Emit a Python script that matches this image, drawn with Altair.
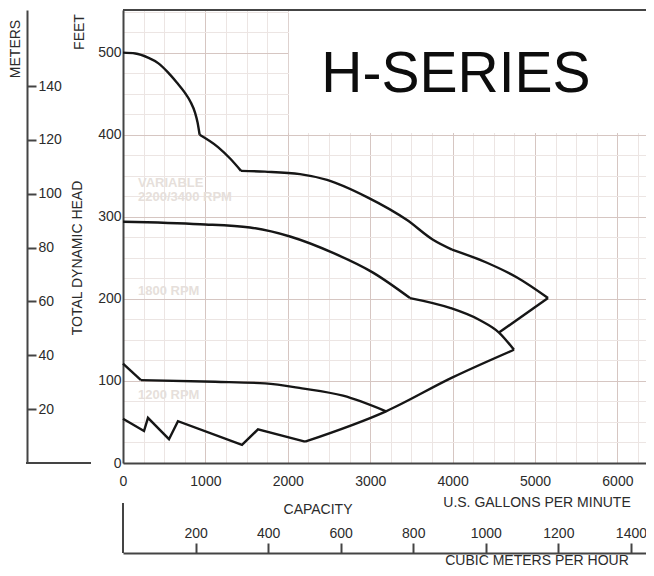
import altair as alt
import pandas as pd

# ---------------- data ----------------
GPM_MAX = 6347
FT_MAX = 552

# smooth curve pieces (gpm, feet)
var_a_gpm = [0, 150, 303, 430, 546, 650, 752, 820, 874, 905, 930]
var_a_ft = [500, 499, 494, 487, 476, 464, 451, 440, 427, 415, 400]
var_b_gpm = [930, 1153, 1300, 1432]
var_b_ft = [400, 385, 371, 356]
var_c_gpm = [1432, 1723, 2148, 2476, 2961, 3447, 3762, 3993]
var_c_ft = [356, 355, 352, 345, 324, 296, 272, 260]
var_d_gpm = [3993, 4417, 4782, 5158]
var_d_ft = [260, 244, 226, 201]

rpm1800_a_gpm = [0, 934, 1541, 2027, 2549, 3034, 3483]
rpm1800_a_ft = [294, 291, 287, 276, 256, 232, 201]
rpm1800_b_gpm = [3483, 3968, 4333, 4563, 4745]
rpm1800_b_ft = [201, 189, 174, 159, 138]

diag_gpm = [4745, 3993, 3192, 2209]
diag_ft = [138, 104, 63, 26]

rpm1200_b_gpm = [218, 1117, 1723, 2172, 2670, 3192]
rpm1200_b_ft = [101, 99, 97, 91, 82, 63]

# straight (polyline) pieces
var_e_gpm = [5158, 4563]
var_e_ft = [201, 159]
low_gpm = [2209, 1638, 1444, 667, 558, 303, 255, 0]
low_ft = [26, 41, 22, 51, 29, 55, 39, 54]
rpm1200_a_gpm = [0, 218]
rpm1200_a_ft = [121, 101]

label_text = ["VARIABLE", "2200/3400 RPM", "1800 RPM", "1200 RPM"]
label_gpm = [182, 182, 182, 182]
label_ft = [341, 324, 210, 83]

m3h_ticks = [200, 400, 600, 800, 1000, 1200, 1400]
meter_ticks = [20, 40, 60, 80, 100, 120, 140]

title_text = ["H-SERIES"]
title_gpm = [4041]
title_ft = [452]

GPM_PER_M3H = 1 / 0.2271247
FT_PER_M = 1 / 0.3048


# ---------------- tables ----------------
def table(pieces):
    rows = []
    for name, xs_, ys_ in pieces:
        for i, (x, y) in enumerate(zip(xs_, ys_)):
            rows.append({"piece": name, "gpm": x, "ft": y, "order": i})
    return pd.DataFrame(rows)


smooth = table([("va", var_a_gpm, var_a_ft), ("vb", var_b_gpm, var_b_ft),
                ("vc", var_c_gpm, var_c_ft), ("vd", var_d_gpm, var_d_ft),
                ("r18a", rpm1800_a_gpm, rpm1800_a_ft), ("r18b", rpm1800_b_gpm, rpm1800_b_ft),
                ("diag", diag_gpm, diag_ft), ("r12b", rpm1200_b_gpm, rpm1200_b_ft)])
straight = table([("ve", var_e_gpm, var_e_ft), ("low", low_gpm, low_ft),
                  ("r12a", rpm1200_a_gpm, rpm1200_a_ft)])
labels = pd.DataFrame({"gpm": label_gpm, "ft": label_ft, "text": label_text})
title_df = pd.DataFrame({"gpm": title_gpm, "ft": title_ft, "text": title_text})
box_df = pd.DataFrame({"x0": [2012], "x1": [GPM_MAX], "y0": [402], "y1": [FT_MAX]})

FONT = "Liberation Sans"
DARK = "#2b2b2b"
AXIS_C = "#444444"
MAJOR = "#d6c6c2"
MINOR = "#ece5e3"
LINE_C = "#161616"

W, H = 523, 453

xs = alt.Scale(domain=[0, GPM_MAX], nice=False, zero=False)
ys = alt.Scale(domain=[0, FT_MAX], nice=False, zero=False)

minor_x = list(range(0, GPM_MAX, 250))
minor_y = list(range(0, FT_MAX, 25))

main = alt.Chart(smooth).mark_line(color=LINE_C, strokeWidth=2.4, interpolate="monotone").encode(
    x=alt.X("gpm:Q", scale=xs, axis=alt.Axis(
        orient="bottom", values=minor_x, format="d",
        labelExpr="datum.value % 1000 === 0 ? datum.label : ''",
        grid=True, gridColor={"condition": {"test": "datum.value % 1000 === 0", "value": MAJOR}, "value": MINOR},
        gridWidth=1, ticks=False, domainColor=AXIS_C, domainWidth=2,
        labelFont=FONT, labelFontSize=14, labelColor=DARK, labelPadding=11,
        labelFlush=False, labelOverlap=False, title=None)),
    y=alt.Y("ft:Q", scale=ys, axis=alt.Axis(
        orient="left", values=minor_y, format="d",
        labelExpr="datum.value % 100 === 0 ? datum.label : ''",
        grid=True, gridColor={"condition": {"test": "datum.value % 100 === 0", "value": MAJOR}, "value": MINOR},
        gridWidth=1, ticks=False, domainColor=AXIS_C, domainWidth=2,
        labelFont=FONT, labelFontSize=14, labelColor=DARK, labelPadding=2,
        labelFlush=False, labelOverlap=False, title=None)),
    detail="piece:N",
    order="order:Q",
)

lines2 = alt.Chart(straight).mark_line(color=LINE_C, strokeWidth=2.4, strokeJoin="miter").encode(
    x=alt.X("gpm:Q", scale=xs, axis=None),
    y=alt.Y("ft:Q", scale=ys, axis=None),
    detail="piece:N",
    order="order:Q",
)

secondary = alt.Chart(smooth).mark_point(opacity=0).encode(
    x=alt.X("gpm:Q", scale=xs, axis=alt.Axis(
        orient="top", offset=-543, values=[m * GPM_PER_M3H for m in m3h_ticks],
        labelExpr="round(datum.value * 0.2271247)",
        grid=False, ticks=True, tickSize=10, tickWidth=2, tickColor=AXIS_C,
        domainColor=AXIS_C, domainWidth=2,
        labelFont=FONT, labelFontSize=14, labelColor=DARK, labelPadding=3,
        labelFlush=False, labelOverlap=False, title=None)),
    y=alt.Y("ft:Q", scale=ys, axis=alt.Axis(
        orient="right", offset=-(W + 96), values=[m * FT_PER_M for m in meter_ticks],
        labelExpr="round(datum.value * 0.3048)",
        grid=False, ticks=True, tickSize=9, tickWidth=2, tickColor=AXIS_C,
        domainColor=AXIS_C, domainWidth=2,
        labelFont=FONT, labelFontSize=14, labelColor=DARK, labelPadding=2,
        labelFlush=False, labelOverlap=False, title=None)),
)

box = alt.Chart(box_df).mark_rect(color="white").encode(
    x=alt.X("x0:Q", scale=xs, axis=None), x2="x1:Q",
    y=alt.Y("y0:Q", scale=ys, axis=None), y2="y1:Q",
)

title = alt.Chart(title_df).mark_text(font=FONT, fontSize=57, color="#0d0d0d",
                                      align="center", baseline="alphabetic").encode(
    x=alt.X("gpm:Q", scale=xs, axis=None),
    y=alt.Y("ft:Q", scale=ys, axis=None),
    text="text:N",
)

rpm_labels = alt.Chart(labels).mark_text(font=FONT, fontSize=13, fontWeight="bold", color="#e6dfdb",
                                         align="left", baseline="middle").encode(
    x=alt.X("gpm:Q", scale=xs, axis=None),
    y=alt.Y("ft:Q", scale=ys, axis=None),
    text="text:N",
)


def txt(s, x, y, angle=0):
    return alt.Chart(pd.DataFrame({"t": [s]})).mark_text(
        font=FONT, fontSize=14, color=DARK, angle=angle, align="center", baseline="middle"
    ).encode(x=alt.value(x), y=alt.value(y), text="t:N")


def rule(x, y, x2=None, y2=None):
    enc = {"x": alt.value(x), "y": alt.value(y)}
    if x2 is not None:
        enc["x2"] = alt.value(x2)
    if y2 is not None:
        enc["y2"] = alt.value(y2)
    return alt.Chart(pd.DataFrame({"a": [0]})).mark_rule(color=AXIS_C, strokeWidth=2).encode(**enc)


decor = [
    rule(0, 0, x2=W),              # top border
    rule(-97, H, x2=-32),          # meters axis foot
    rule(0, 493, y2=543),          # m3/h axis bracket
    txt("FEET", -43, 22, angle=270),
    txt("TOTAL DYNAMIC HEAD", -45, 248, angle=270),
    txt("METERS", -107, 39, angle=270),
    txt("CAPACITY", 195, 500),
    txt("U.S. GALLONS PER MINUTE", 414, 493),
    txt("CUBIC METERS PER HOUR", 414, 551),
]

chart = alt.layer(main, lines2, secondary, box, title, rpm_labels, *decor).resolve_scale(
    x="independent", y="independent"
).properties(
    width=W, height=H,
    autosize=alt.AutoSizeParams(type="none"),
    padding={"left": 115, "top": 2, "right": 0, "bottom": 105},
    background="white",
).configure_view(stroke=None)

chart.save("out.html", embed_options={"renderer": "svg", "actions": False})
